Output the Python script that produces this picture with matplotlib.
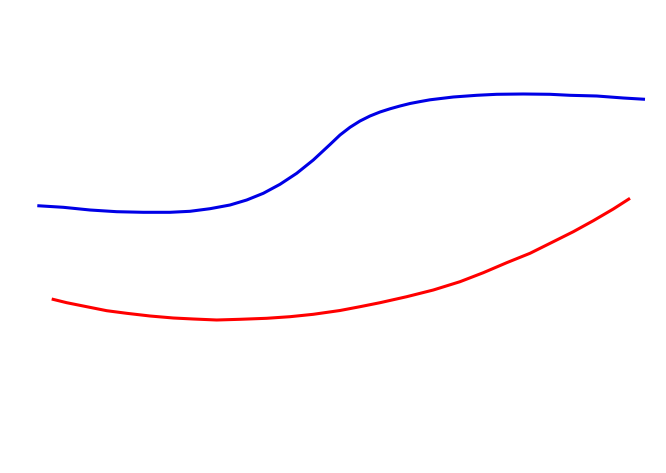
import numpy as np
import matplotlib
matplotlib.use("Agg")
import matplotlib.pyplot as plt

# values (x right, y down, in the picture's own units)
blue_x = [37.3, 63.3, 90, 116.7, 143.3, 170, 190, 210, 230, 246.7, 263.3, 280, 296.7, 313.3, 330,
          340, 350, 360, 370, 380, 390, 400, 410, 420, 430, 453.3, 476.7, 496.7, 523.3, 550, 570, 596.7, 623.3, 645]
blue_y = [205.7, 207.3, 210, 211.7, 212.3, 212.3, 211.3, 208.7, 205, 200, 193.3, 184.3, 173.3, 160, 144.5,
          135, 127.3, 121, 116, 112, 108.8, 106, 103.5, 101.6, 99.8, 97, 95.3, 94.3, 94, 94.3, 95.3, 96, 98, 99.3]

red_x = [51.7, 66.7, 86.7, 106.7, 126.7, 150, 173.3, 193.3, 216.7, 240, 266.7, 290, 313.3, 340,
         360, 380, 406.7, 433.3, 460, 483.3, 506.7, 530, 553.3, 573.3, 593.3, 613.3, 630]
red_y = [299, 302.7, 306.7, 310.7, 313.3, 316, 318, 319, 320, 319.3, 318.3, 316.7, 314.3, 310.5,
         306.7, 302.7, 296.7, 290, 281.7, 272.7, 262.7, 253.3, 241.7, 231.7, 220.7, 209, 198.3]

fig = plt.figure(figsize=(6.66, 4.73), dpi=100)
ax = fig.add_axes([0, 0, 1, 1])
ax.plot(blue_x, blue_y, color="#0000e6", linewidth=2.2, solid_capstyle="butt", solid_joinstyle="round")
ax.plot(red_x, red_y, color="#ff0000", linewidth=2.2, solid_capstyle="butt", solid_joinstyle="round")
ax.set_xlim(0, 666)
ax.set_ylim(473, 0)
ax.axis("off")
fig.savefig("out.png", dpi=100, facecolor="white")
